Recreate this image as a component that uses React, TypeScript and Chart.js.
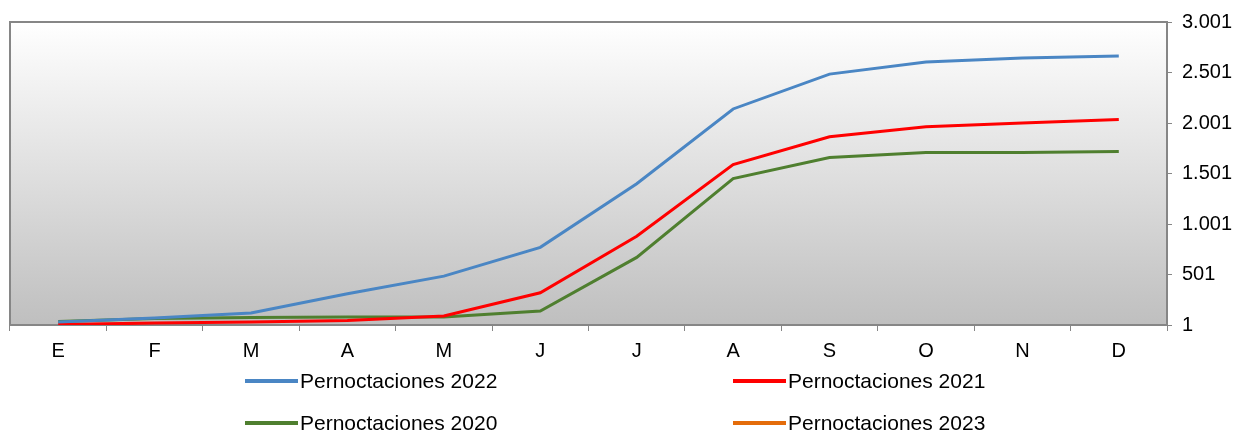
import React, { useEffect, useRef } from "react";
import { Chart, registerables } from "chart.js";

Chart.register(...registerables);

const months = ["E", "F", "M", "A", "M", "J", "J", "A", "S", "O", "N", "D"];
const pern2022 = [30, 70, 120, 310, 485, 770, 1400, 2140, 2485, 2605, 2645, 2665];
const pern2021 = [5, 20, 30, 45, 90, 320, 880, 1590, 1865, 1965, 2000, 2035];
const pern2020 = [35, 65, 75, 80, 80, 140, 670, 1450, 1660, 1710, 1710, 1720];
const pern2023: (number | null)[] = [null, null, null, null, null, null, null, null, null, null, null, null];
const yTicks = [1, 501, 1001, 1501, 2001, 2501, 3001];

const seriesNames = ["Pernoctaciones 2022", "Pernoctaciones 2021", "Pernoctaciones 2020", "Pernoctaciones 2023"];
const seriesColors = ["#4a86c4", "#ff0000", "#4f7f2f", "#e46c0a"];

const fmt = (v: number) => String(v).replace(/\B(?=(\d{3})+(?!\d))/g, ".");

const FONT = "'Liberation Sans', Arial, sans-serif";

export default function App() {
  const ref = useRef<HTMLCanvasElement | null>(null);

  useEffect(() => {
    if (!ref.current) return;
    const bgPlugin = {
      id: "plotBg",
      beforeDatasetsDraw(chart: any) {
        const { ctx, chartArea } = chart;
        const { left, top, right, bottom } = chartArea;
        ctx.save();
        const g = ctx.createLinearGradient(0, top, 0, bottom);
        g.addColorStop(0, "#ffffff");
        g.addColorStop(1, "#bfbfbf");
        ctx.fillStyle = g;
        ctx.fillRect(left, top, right - left, bottom - top);
        ctx.strokeStyle = "#868686";
        ctx.lineWidth = 2;
        ctx.strokeRect(left, top, right - left, bottom - top);
        ctx.restore();
      },
    };

    const datasets = [pern2022, pern2021, pern2020, pern2023].map((d, i) => ({
      label: seriesNames[i],
      data: d,
      borderColor: seriesColors[i],
      backgroundColor: seriesColors[i],
      borderWidth: 3,
      pointRadius: 0,
      tension: 0,
      fill: false,
    }));

    const chart = new Chart(ref.current, {
      type: "line",
      data: { labels: months, datasets },
      plugins: [bgPlugin],
      options: {
        animation: false,
        responsive: false,
        maintainAspectRatio: false,
        layout: { padding: { left: 10, top: 20, right: 0, bottom: 0 } },
        plugins: { legend: { display: false }, tooltip: { enabled: false }, title: { display: false } },
        scales: {
          x: {
            offset: true,
            grid: { offset: true, drawOnChartArea: false, drawTicks: true, tickLength: 6, color: "#868686", lineWidth: 1 },
            border: { display: false },
            ticks: { color: "#000", font: { family: FONT, size: 20 }, padding: 8, maxRotation: 0 },
            afterFit: (s: any) => { s.height = 107; },
          },
          y: {
            position: "right",
            min: 1,
            max: 3001,
            afterBuildTicks: (s: any) => { s.ticks = yTicks.map((v) => ({ value: v })); },
            grid: { drawOnChartArea: false, drawTicks: true, tickLength: 5, color: "#868686" },
            border: { display: false },
            ticks: {
              color: "#000",
              font: { family: FONT, size: 20 },
              padding: 10,
              callback: (v: any) => fmt(Number(v)),
            },
            afterFit: (s: any) => { s.width = 77; },
          },
        },
      },
    });
    return () => chart.destroy();
  }, []);

  const legendPos = [
    { x: 245, y: 381 },
    { x: 733, y: 381 },
    { x: 245, y: 423 },
    { x: 733, y: 423 },
  ];

  return (
    <div style={{ position: "absolute", left: 0, top: 0, width: 1244, height: 432, background: "#fff" }}>
      <canvas ref={ref} width={1244} height={432} style={{ display: "block" }} />
      {seriesNames.map((n, i) => (
        <React.Fragment key={n}>
          <div
            style={{
              position: "absolute",
              left: legendPos[i].x,
              top: legendPos[i].y - 2,
              width: 53,
              height: 4,
              background: seriesColors[i],
            }}
          />
          <div
            style={{
              position: "absolute",
              left: legendPos[i].x + 55,
              top: legendPos[i].y - 13,
              height: 26,
              lineHeight: "26px",
              fontFamily: FONT,
              fontSize: 21,
              color: "#000",
              whiteSpace: "nowrap",
            }}
          >
            {n}
          </div>
        </React.Fragment>
      ))}
    </div>
  );
}
